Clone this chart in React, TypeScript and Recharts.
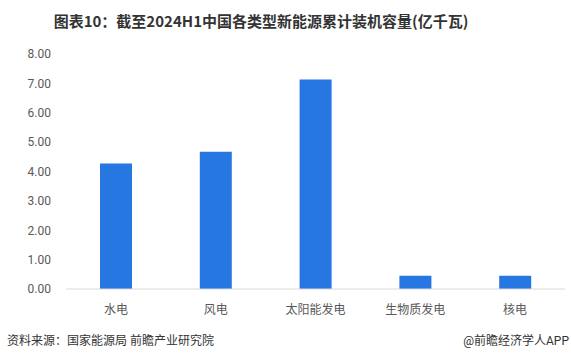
import React from "react";
import { BarChart, Bar, XAxis, YAxis } from "recharts";

const categories = ["水电", "风电", "太阳能发电", "生物质发电", "核电"];
const capacity = [4.27, 4.67, 7.13, 0.45, 0.45];
const yTicks = [0, 1, 2, 3, 4, 5, 6, 7, 8];

const data = categories.map((name, i) => ({ name, value: capacity[i] }));

const font = "Roboto, 'Noto Sans CJK SC', sans-serif";

export default function App() {
  return (
    <div
      style={{
        position: "absolute",
        left: 0,
        top: 0,
        width: 571,
        height: 360,
        background: "#fff",
        fontFamily: font,
      }}
    >
      <div
        style={{
          position: "absolute",
          top: 10,
          left: 0,
          width: 522,
          textAlign: "center",
          fontSize: 15,
          fontWeight: "bold",
          color: "#333",
          fontFamily: "'Noto Sans CJK SC', sans-serif",
        }}
      >
        图表10：截至2024H1中国各类型新能源累计装机容量(亿千瓦)
      </div>
      <BarChart
        width={571}
        height={320}
        data={data}
        margin={{ top: 54, right: 6, left: 0, bottom: 0 }}
        style={{ position: "absolute", top: 0, left: 0 }}
      >
        <XAxis
          dataKey="name"
          height={31}
          axisLine={{ stroke: "#d9d9d9" }}
          tickLine={false}
          tick={{ fontSize: 12, fill: "#595959", fontFamily: font }}
          tickMargin={10}
        />
        <YAxis
          width={66}
          domain={[0, 8]}
          ticks={yTicks}
          interval={0}
          axisLine={false}
          tickLine={false}
          tickSize={0}
          tickMargin={15}
          tickFormatter={(v) => v.toFixed(2)}
          tick={{ fontSize: 12, fill: "#595959", fontFamily: font }}
        />
        <Bar dataKey="value" fill="#2777E3" barSize={32} isAnimationActive={false} />
      </BarChart>
      <div
        style={{
          position: "absolute",
          top: 331,
          left: 7,
          fontSize: 12,
          color: "#333",
        }}
      >
        资料来源：国家能源局 前瞻产业研究院
      </div>
      <div
        style={{
          position: "absolute",
          top: 331,
          right: 2,
          fontSize: 12,
          color: "#333",
        }}
      >
        @前瞻经济学人APP
      </div>
    </div>
  );
}
